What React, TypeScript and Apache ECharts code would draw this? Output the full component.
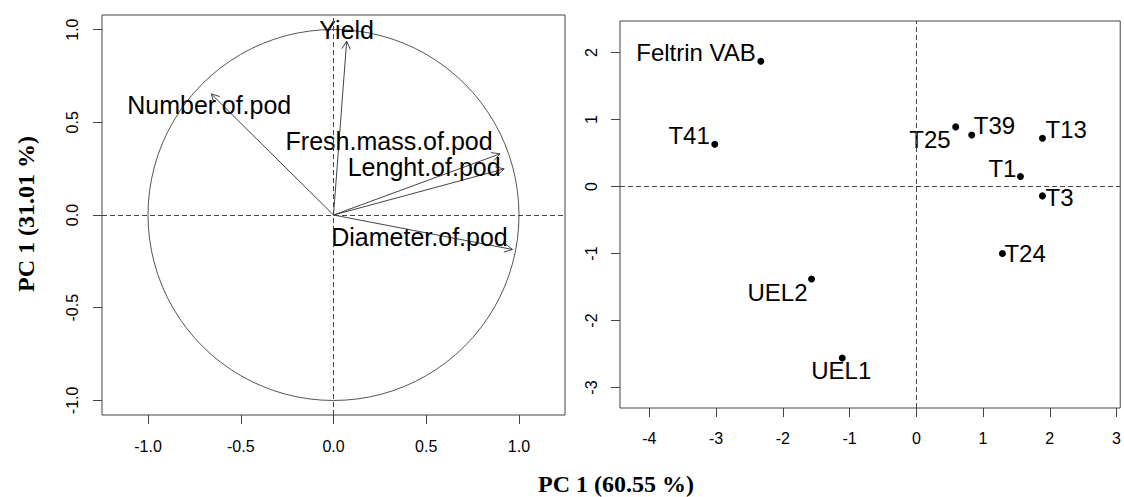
import React, { useEffect, useRef } from "react";
import * as echarts from "echarts";

// ---- data ----
const circleRadius = [1];
const varNames = ["Yield", "Number.of.pod", "Fresh.mass.of.pod", "Lenght.of.pod", "Diameter.of.pod"];
const varPC1 = [0.071, -0.659, 0.898, 0.92, 0.965];
const varPC2 = [0.938, 0.653, 0.33, 0.249, -0.186];

const genotypes = ["Feltrin VAB", "T41", "T25", "T39", "T13", "T1", "T3", "T24", "UEL2", "UEL1"];
const genoPC1 = [-2.33, -3.02, 0.59, 0.83, 1.89, 1.56, 1.89, 1.29, -1.57, -1.11];
const genoPC2 = [1.87, 0.63, 0.89, 0.77, 0.72, 0.15, -0.14, -1.0, -1.38, -2.56];

const leftTicks = [-1, -0.5, 0, 0.5, 1];
const rightXTicks = [-4, -3, -2, -1, 0, 1, 2, 3];
const rightYTicks = [-3, -2, -1, 0, 1, 2];

const yTitle = "PC 1 (31.01 %)";
const xTitle = "PC 1 (60.55 %)";

// ---- styles (label placement) ----
const varLabelOffsets: Record<string, [number, number]> = {
  Yield: [0, -11],
  "Number.of.pod": [-2, 11],
  "Fresh.mass.of.pod": [-111, -13],
  "Lenght.of.pod": [-80, -2],
  "Diameter.of.pod": [-93, -12],
};
const genoLabelStyle: Record<string, { align: string; offset: [number, number] }> = {
  "Feltrin VAB": { align: "right", offset: [-5, -9] },
  T41: { align: "right", offset: [-5, -9] },
  T25: { align: "right", offset: [-5, 13] },
  T39: { align: "left", offset: [2, -9] },
  T13: { align: "left", offset: [3, -9] },
  T1: { align: "right", offset: [-4, -8] },
  T3: { align: "left", offset: [3, 2] },
  T24: { align: "left", offset: [2, 0] },
  UEL2: { align: "right", offset: [-4, 13] },
  UEL1: { align: "center", offset: [-1, 12] },
};

const LINE = "#444";
const TXT = "#000";
const SANS = "Liberation Sans";

export default function App() {
  const ref = useRef<HTMLDivElement>(null);
  useEffect(() => {
    if (!ref.current) return;
    const chart = echarts.init(ref.current, undefined, { renderer: "svg" });

    const axisCommon = {
      type: "value",
      axisLine: { show: false, onZero: false },
      splitLine: { show: false },
      axisTick: { show: true, length: 9, lineStyle: { color: LINE, width: 1 } },
    };

    const dashLine = {
      silent: true,
      symbol: ["none", "none"],
      label: { show: false },
      lineStyle: { color: LINE, type: [5, 3], width: 1 },
      emphasis: { disabled: true },
      data: [{ xAxis: 0 }, { yAxis: 0 }],
    };

    const tickLabel = { fontSize: 16, color: "#000", fontFamily: SANS };

    const option: any = {
      animation: false,
      textStyle: { fontFamily: SANS },
      grid: [
        { left: 102, top: 15, width: 463, height: 400, show: true, borderColor: LINE, borderWidth: 1, backgroundColor: "transparent" },
        { left: 620, top: 21, width: 503, height: 387, show: true, borderColor: LINE, borderWidth: 1, backgroundColor: "transparent" },
      ],
      xAxis: [
        {
          ...axisCommon,
          gridIndex: 0,
          min: -1.248,
          max: 1.248,
          axisTick: { ...axisCommon.axisTick, customValues: leftTicks },
          axisLabel: { ...tickLabel, customValues: leftTicks, margin: 23, formatter: (v: number) => v.toFixed(1) },
        },
        {
          ...axisCommon,
          gridIndex: 1,
          min: -4.44,
          max: 3.055,
          axisTick: { ...axisCommon.axisTick, customValues: rightXTicks },
          axisLabel: { ...tickLabel, customValues: rightXTicks, margin: 22, formatter: (v: number) => String(v) },
        },
      ],
      yAxis: [
        {
          ...axisCommon,
          gridIndex: 0,
          min: -1.079,
          max: 1.079,
          axisTick: { ...axisCommon.axisTick, customValues: leftTicks },
          axisLabel: { ...tickLabel, customValues: leftTicks, rotate: 90, margin: 22, formatter: (v: number) => v.toFixed(1) },
        },
        {
          ...axisCommon,
          gridIndex: 1,
          min: -3.305,
          max: 2.47,
          axisTick: { ...axisCommon.axisTick, customValues: rightYTicks },
          axisLabel: { ...tickLabel, customValues: rightYTicks, rotate: 90, margin: 21, formatter: (v: number) => String(v) },
        },
      ],
      series: [
        {
          type: "scatter",
          xAxisIndex: 0,
          yAxisIndex: 0,
          data: [],
          markLine: dashLine,
        },
        {
          type: "custom",
          xAxisIndex: 0,
          yAxisIndex: 0,
          silent: true,
          clip: false,
          data: circleRadius.map((r) => [0, 0, r]),
          renderItem: (params: any, api: any) => {
            const c = api.coord([api.value(0), api.value(1)]);
            const r = api.size([api.value(2), api.value(2)])[0];
            return {
              type: "circle",
              shape: { cx: c[0], cy: c[1], r },
              style: { fill: "none", stroke: "#555", lineWidth: 1 },
            };
          },
        },
        {
          type: "custom",
          xAxisIndex: 0,
          yAxisIndex: 0,
          silent: true,
          clip: false,
          data: varNames.map((n, i) => ({ name: n, value: [varPC1[i], varPC2[i]] })),
          renderItem: (params: any, api: any) => {
            const o = api.coord([0, 0]);
            const t = api.coord([api.value(0), api.value(1)]);
            const th = Math.atan2(t[1] - o[1], t[0] - o[0]);
            const L = 9;
            const a = (28 * Math.PI) / 180;
            const p1 = [t[0] - L * Math.cos(th - a), t[1] - L * Math.sin(th - a)];
            const p2 = [t[0] - L * Math.cos(th + a), t[1] - L * Math.sin(th + a)];
            const name = varNames[params.dataIndex];
            const off = varLabelOffsets[name] || [0, 0];
            return {
              type: "group",
              children: [
                { type: "line", shape: { x1: o[0], y1: o[1], x2: t[0], y2: t[1] }, style: { stroke: LINE, lineWidth: 1 } },
                { type: "polyline", shape: { points: [p1, t, p2] }, style: { stroke: LINE, fill: "none", lineWidth: 1 } },
                {
                  type: "text",
                  x: t[0] + off[0],
                  y: t[1] + off[1],
                  style: { text: name, fontSize: 25, fontFamily: SANS, fill: TXT, align: "center", verticalAlign: "middle" },
                },
              ],
            };
          },
        },
        {
          type: "scatter",
          xAxisIndex: 1,
          yAxisIndex: 1,
          symbol: "circle",
          symbolSize: 7,
          itemStyle: { color: "#000", opacity: 1 },
          silent: true,
          label: { show: true, position: "inside", formatter: "{b}", fontSize: 24, color: TXT, fontFamily: SANS, verticalAlign: "middle", textBorderWidth: 0 },
          data: genotypes.map((n, i) => ({
            name: n,
            value: [genoPC1[i], genoPC2[i]],
            label: { align: genoLabelStyle[n].align, offset: genoLabelStyle[n].offset },
          })),
          markLine: dashLine,
        },
      ],
      graphic: [
        {
          type: "text",
          x: 26,
          y: 214,
          rotation: Math.PI / 2,
          style: { text: yTitle, font: 'bold 24px "Liberation Serif"', fill: "#000", align: "center", verticalAlign: "middle" },
        },
        {
          type: "text",
          x: 616,
          y: 484,
          style: { text: xTitle, font: 'bold 24px "Liberation Serif"', fill: "#000", align: "center", verticalAlign: "middle" },
        },
      ],
    };
    chart.setOption(option);
    return () => chart.dispose();
  }, []);
  return <div ref={ref} style={{ position: "absolute", left: 0, top: 0, width: 1124, height: 497 }} />;
}
